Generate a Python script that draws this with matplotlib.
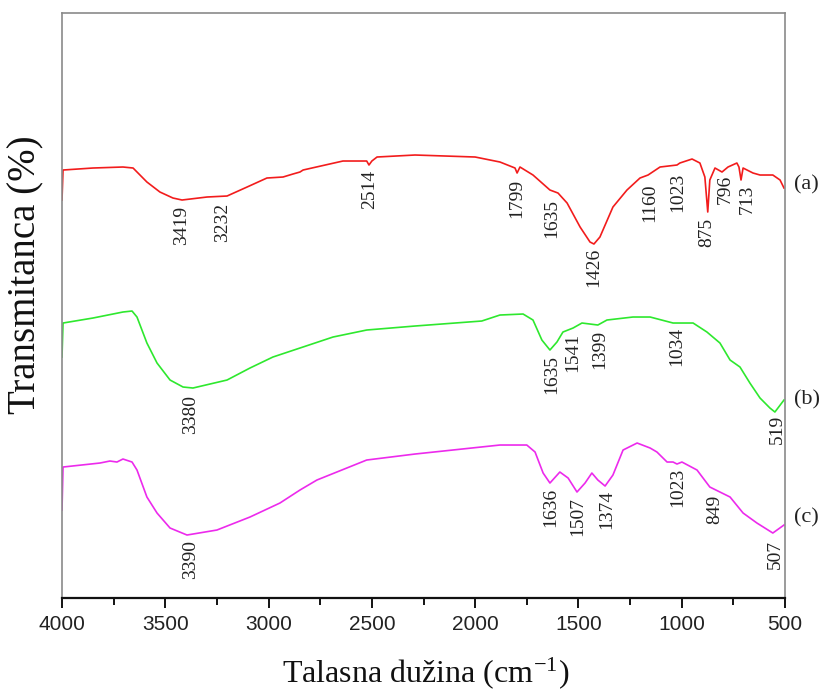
import matplotlib
matplotlib.use("Agg")
import matplotlib.pyplot as plt
from matplotlib.ticker import MultipleLocator

plt.rcParams["mathtext.fontset"] = "stix"

# spectrum (a)
wn_a = [4000, 3995, 3850, 3705, 3656, 3589, 3526, 3463, 3419, 3298, 3201, 3104, 3008, 2930,
        2882, 2848, 2833, 2640, 2543, 2525, 2514, 2500, 2475, 2291, 2000, 1880, 1807, 1797,
        1783, 1720, 1638, 1599, 1555, 1492, 1444, 1425, 1396, 1333, 1265, 1202, 1163, 1105,
        1023, 1009, 950, 912, 888, 874, 864, 839, 805, 776, 733, 723, 713, 703, 655, 621,
        559, 524, 505]
t_a = [398, 428, 430, 431, 430, 416, 406, 400, 398, 401, 402, 411, 420, 421,
       424, 426, 428, 437, 437, 437, 433, 437, 441, 443, 441, 436, 430, 425,
       431, 423, 408, 405, 395, 371, 356, 354, 361, 391, 408, 420, 423, 431,
       433, 435, 439, 435, 421, 386, 418, 430, 426, 431, 435, 431, 418, 430, 425, 423,
       423, 418, 410]

# spectrum (b)
wn_b = [4000, 3995, 3850, 3705, 3661, 3637, 3589, 3540, 3477, 3414, 3366, 3201, 3090, 2979,
        2848, 2688, 2525, 2291, 1968, 1880, 1768, 1720, 1677, 1638, 1604, 1575, 1526, 1483,
        1406, 1362, 1236, 1153, 1042, 945, 878, 815, 766, 718, 670, 621, 573, 549, 505]
t_b = [241, 275, 280, 286, 287, 281, 255, 235, 218, 211, 210, 218, 230, 241,
       250, 261, 268, 272, 277, 283, 284, 278, 258, 248, 256, 266, 270, 275,
       273, 278, 281, 281, 275, 275, 266, 255, 238, 231, 215, 200, 190, 186, 198]

# spectrum (c)
wn_c = [4000, 3995, 3816, 3768, 3734, 3705, 3661, 3637, 3589, 3540, 3477, 3395, 3250, 3090,
        2945, 2848, 2766, 2525, 2291, 1880, 1750, 1710, 1671, 1638, 1590, 1550, 1507, 1468,
        1435, 1406, 1371, 1333, 1284, 1216, 1153, 1120, 1071, 1042, 1023, 999, 926, 864,
        815, 766, 703, 636, 559, 505]
t_c = [88, 131, 135, 137, 136, 139, 136, 128, 101, 85, 70, 63, 68, 81,
       95, 108, 118, 138, 144, 153, 153, 146, 125, 115, 126, 120, 106, 115,
       125, 118, 112, 123, 148, 155, 150, 146, 136, 136, 134, 136, 128, 111,
       106, 101, 85, 75, 65, 73]

# peak labels: text, x, y of top of label
peaks_a = ["3419", "3232", "2514", "1799", "1635", "1426", "1160", "1023", "875", "796", "713"]
peaks_a_x = [3419, 3225, 2509, 1797, 1628, 1425, 1153, 1018, 878, 790, 684]
peaks_a_y = [392, 395, 428, 419, 399, 350, 415, 425, 380, 423, 413]

peaks_b = ["3380", "1635", "1541", "1399", "1034", "519"]
peaks_b_x = [3380, 1628, 1526, 1396, 1023, 539]
peaks_b_y = [203, 243, 265, 268, 271, 183]

peaks_c = ["3390", "1636", "1507", "1374", "1023", "849", "507"]
peaks_c_x = [3380, 1633, 1502, 1362, 1018, 839, 548]
peaks_c_y = [58, 110, 101, 108, 130, 103, 58]

names = ["(a)", "(b)", "(c)"]
names_y = [413, 198, 80]

fig = plt.figure(figsize=(8.3, 6.92), dpi=100)
ax = fig.add_axes([0.0747, 0.1358, 0.8711, 0.8454])

ax.plot(wn_a, t_a, color="#f21c1c", lw=1.2)
ax.plot(wn_b, t_b, color="#2ee82e", lw=1.2)
ax.plot(wn_c, t_c, color="#ec2aec", lw=1.2)

for labels, xs, ys in [(peaks_a, peaks_a_x, peaks_a_y),
                       (peaks_b, peaks_b_x, peaks_b_y),
                       (peaks_c, peaks_c_x, peaks_c_y)]:
    for s, x, y in zip(labels, xs, ys):
        ax.text(x, y, s, rotation=90, ha="center", va="top",
                family="Liberation Serif", fontsize=14, color="#222222")

for s, y in zip(names, names_y):
    ax.text(455, y, s, ha="left", va="center", family="Liberation Serif",
            fontsize=16, color="#222222", clip_on=False)

ax.set_xlim(4000, 500)
ax.set_ylim(0, 585)
ax.xaxis.set_major_locator(MultipleLocator(500))
ax.xaxis.set_minor_locator(MultipleLocator(250))
ax.set_yticks([])
ax.tick_params(axis="x", which="major", direction="out", length=7, width=1.3,
               pad=5, labelsize=15, labelcolor="#222222")
ax.tick_params(axis="x", which="minor", direction="out", length=5, width=1.3)
for lab in ax.get_xticklabels():
    lab.set_family("Liberation Sans")

for side in ["left", "top", "right"]:
    ax.spines[side].set_color("#8a8a8a")
    ax.spines[side].set_linewidth(1.2)
ax.spines["bottom"].set_color("#111111")
ax.spines["bottom"].set_linewidth(1.6)

fig.text(0.031, 0.603, "Transmitanca (%)", rotation=90, ha="center", va="center",
         family="Liberation Serif", fontsize=28, color="#111111")
fig.text(0.513, 0.027, r"Talasna dužina (cm$^{\mathregular{-1}}$)", ha="center", va="center",
         family="Liberation Serif", fontsize=23, color="#111111")

fig.savefig("out.png", dpi=100)
